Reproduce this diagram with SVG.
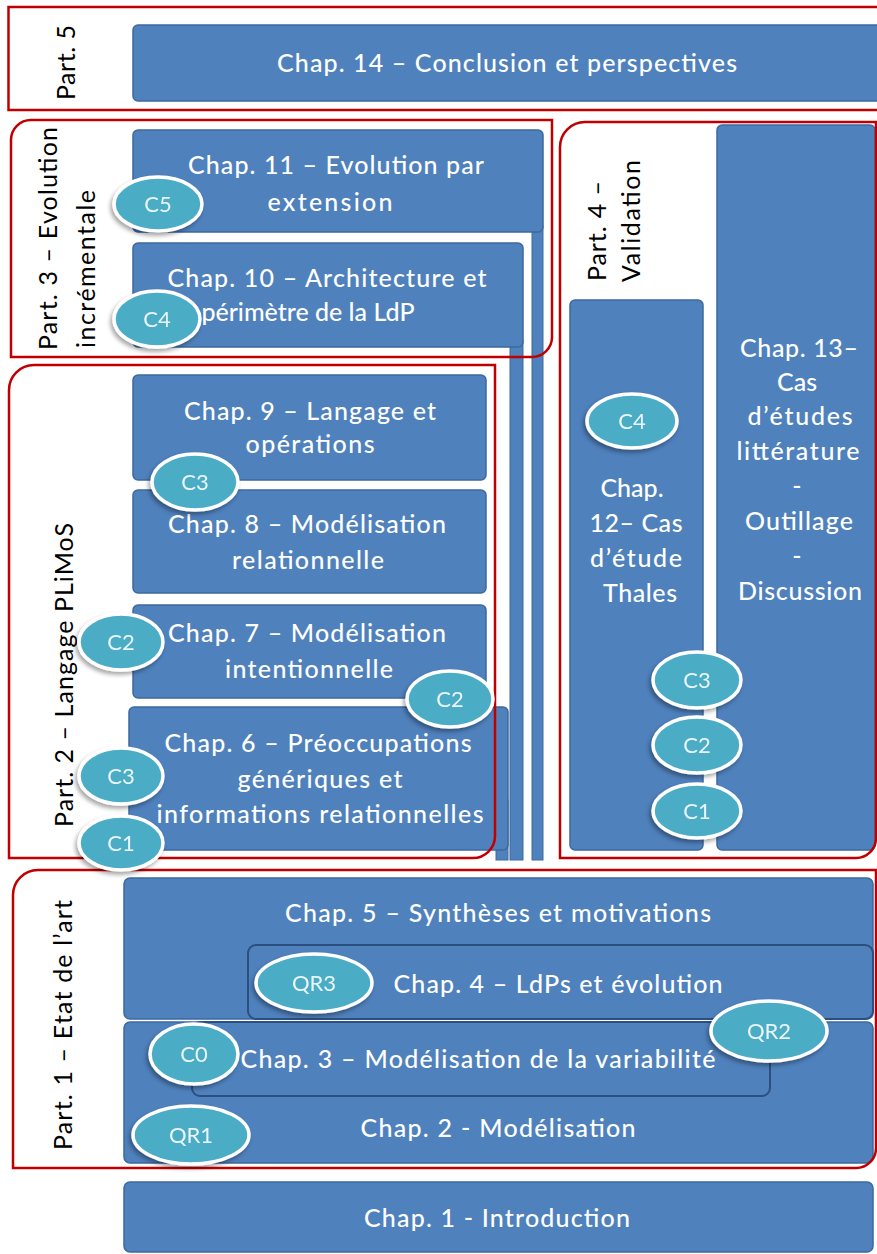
<svg xmlns="http://www.w3.org/2000/svg" width="877" height="1254" viewBox="0 0 877 1254">
<defs>
<style>
.box{fill:#4f81bd;stroke:#3d6a9e;stroke-width:1.5}
.boxd{fill:#4f81bd;stroke:#2b4f7e;stroke-width:2}
.strip{fill:#4f81bd;stroke:#3d6a9e;stroke-width:1}
.frame{fill:none;stroke:#c00000;stroke-width:2.5}
.ct{font-family:Lato,"Open Sans","Liberation Sans",sans-serif;font-size:25px;font-weight:500;fill:#ffffff;text-anchor:middle}
.pl{font-family:Lato,"Open Sans","Liberation Sans",sans-serif;font-size:25px;fill:#000000}
.badge ellipse{fill:#4bacc6;stroke:#ffffff;stroke-width:3.5}
.bl{font-family:Lato,"Open Sans","Liberation Sans",sans-serif;font-size:22px;fill:#eaf6fa;text-anchor:middle}
</style>
<filter id="sh" x="-30%" y="-30%" width="160%" height="170%">
<feDropShadow dx="-2" dy="3" stdDeviation="2" flood-color="#000" flood-opacity="0.35"/>
</filter>
</defs>
<rect width="877" height="1254" fill="#ffffff"/>

<!-- connectors: strips linking chapters downward -->
<g id="connectors">
<rect class="strip" x="532" y="226" width="11" height="634"/>
<rect class="strip" x="510" y="340" width="13" height="520"/>
<rect class="strip" x="496" y="800" width="12" height="60"/>
</g>

<!-- chapters -->
<g id="chap14"><rect class="box" x="133" y="25" width="760" height="76" rx="5"/>
<text class="ct" x="507" y="72" textLength="460">Chap. 14 – Conclusion et perspectives</text></g>

<g id="chap11"><rect class="box" x="133" y="130" width="410" height="102" rx="5"/>
<text class="ct" x="336" y="174" textLength="296">Chap. 11 – Evolution par</text>
<text class="ct" x="330" y="211" textLength="125">extension</text></g>

<g id="chap10"><rect class="box" x="133" y="243" width="390" height="104" rx="5"/>
<text class="ct" x="327" y="287" textLength="319">Chap. 10 – Architecture et</text>
<text class="ct" x="308" y="321">périmètre de la LdP</text></g>

<g id="chap9"><rect class="box" x="133" y="375" width="353" height="105" rx="5"/>
<text class="ct" x="310" y="420" textLength="252">Chap. 9 – Langage et</text>
<text class="ct" x="310" y="453" textLength="129">opérations</text></g>

<g id="chap8"><rect class="box" x="133" y="490" width="353" height="103" rx="5"/>
<text class="ct" x="307" y="533" textLength="278">Chap. 8 – Modélisation</text>
<text class="ct" x="308" y="569" textLength="152">relationnelle</text></g>

<g id="chap7"><rect class="box" x="133" y="605" width="353" height="93" rx="5"/>
<text class="ct" x="307" y="642" textLength="278">Chap. 7 – Modélisation</text>
<text class="ct" x="309" y="678" textLength="168">intentionnelle</text></g>

<g id="chap6"><rect class="box" x="129" y="707" width="379" height="143" rx="5"/>
<text class="ct" x="318" y="752" textLength="307">Chap. 6 – Préoccupations</text>
<text class="ct" x="320" y="788" textLength="165">génériques et</text>
<text class="ct" x="320" y="823" textLength="327">informations relationnelles</text></g>

<g id="chap12"><rect class="box" x="570" y="300" width="133" height="550" rx="5"/>
<text class="ct" x="632" y="497">Chap.</text>
<text class="ct" x="636" y="532" textLength="93">12– Cas</text>
<text class="ct" x="636" y="567" textLength="92">d’étude</text>
<text class="ct" x="640" y="602" textLength="74">Thales</text></g>

<g id="chap13"><rect class="box" x="717" y="125" width="158" height="725" rx="5"/>
<text class="ct" x="799" y="357" textLength="118">Chap. 13–</text>
<text class="ct" x="797" y="391">Cas</text>
<text class="ct" x="800" y="425" textLength="105">d’études</text>
<text class="ct" x="798" y="460" textLength="123">littérature</text>
<text class="ct" x="797" y="495">-</text>
<text class="ct" x="799" y="530" textLength="108">Outillage</text>
<text class="ct" x="797" y="565">-</text>
<text class="ct" x="800" y="600" textLength="124">Discussion</text></g>

<g id="chap5"><rect class="box" x="124" y="878" width="749" height="141" rx="6"/>
<text class="ct" x="498" y="922" textLength="426">Chap. 5 – Synthèses et motivations</text></g>

<g id="chap4"><rect class="boxd" x="248" y="945" width="625" height="74" rx="8"/>
<text class="ct" x="558" y="993" textLength="329">Chap. 4 – LdPs et évolution</text></g>

<g id="chap2"><rect class="box" x="124" y="1022" width="749" height="141" rx="6"/>
<text class="ct" x="498" y="1137" textLength="275">Chap. 2 - Modélisation</text></g>

<g id="chap3"><rect class="boxd" x="192" y="1022" width="578" height="74" rx="8"/>
<text class="ct" x="478" y="1068" textLength="475">Chap. 3 – Modélisation de la variabilité</text></g>

<g id="chap1"><rect class="box" x="124" y="1182" width="749" height="70" rx="6"/>
<text class="ct" x="497" y="1227" textLength="266">Chap. 1 - Introduction</text></g>

<!-- part frames -->
<g id="part5"><rect class="frame" x="8.5" y="7" width="880" height="103"/>
<text class="pl" transform="translate(75,100) rotate(-90)" textLength="75">Part. 5</text></g>

<g id="part3"><path class="frame" d="M31,120 H552 V337 A20 20 0 0 1 532,357 H11 V140 A20 20 0 0 1 31,120 Z"/>
<text class="pl" transform="translate(57,350) rotate(-90)" textLength="223">Part. 3 – Evolution</text>
<text class="pl" transform="translate(95,348) rotate(-90)" textLength="158">incrémentale</text></g>

<g id="part2"><path class="frame" d="M34,365 H495 V836 A22 22 0 0 1 473,858 H9 V390 A25 25 0 0 1 34,365 Z"/>
<text class="pl" transform="translate(73,827) rotate(-90)" textLength="304">Part. 2 – Langage PLiMoS</text></g>

<g id="part4"><path class="frame" d="M585,122 H876 V838 A20 20 0 0 1 856,858 H560 V147 A25 25 0 0 1 585,122 Z"/>
<text class="pl" transform="translate(606,281) rotate(-90)" textLength="100">Part. 4 –</text>
<text class="pl" transform="translate(640,282) rotate(-90)" textLength="122">Validation</text></g>

<g id="part1"><path class="frame" d="M38,870 H876 V1148 A20 20 0 0 1 856,1168 H13 V895 A25 25 0 0 1 38,870 Z"/>
<text class="pl" transform="translate(72,1150) rotate(-90)" textLength="250">Part. 1 – Etat de l’art</text></g>

<!-- badges -->
<g id="badge-c5" class="badge" filter="url(#sh)"><ellipse cx="158" cy="204" rx="44" ry="27"/><text class="bl" x="158" y="212">C5</text></g>
<g id="badge-c4a" class="badge" filter="url(#sh)"><ellipse cx="157" cy="319" rx="43" ry="28"/><text class="bl" x="157" y="327">C4</text></g>
<g id="badge-c3a" class="badge" filter="url(#sh)"><ellipse cx="195" cy="482" rx="43" ry="28"/><text class="bl" x="195" y="490">C3</text></g>
<g id="badge-c2a" class="badge" filter="url(#sh)"><ellipse cx="121" cy="642" rx="42" ry="28"/><text class="bl" x="121" y="650">C2</text></g>
<g id="badge-c2b" class="badge" filter="url(#sh)"><ellipse cx="450" cy="699" rx="43" ry="28"/><text class="bl" x="450" y="707">C2</text></g>
<g id="badge-c3b" class="badge" filter="url(#sh)"><ellipse cx="121" cy="776" rx="42" ry="28"/><text class="bl" x="121" y="784">C3</text></g>
<g id="badge-c1a" class="badge" filter="url(#sh)"><ellipse cx="121" cy="843" rx="42" ry="27"/><text class="bl" x="121" y="851">C1</text></g>
<g id="badge-c4b" class="badge" filter="url(#sh)"><ellipse cx="632" cy="421" rx="45" ry="27"/><text class="bl" x="632" y="429">C4</text></g>
<g id="badge-c3c" class="badge" filter="url(#sh)"><ellipse cx="697" cy="680" rx="44" ry="28"/><text class="bl" x="697" y="688">C3</text></g>
<g id="badge-c2c" class="badge" filter="url(#sh)"><ellipse cx="697" cy="745" rx="44" ry="28"/><text class="bl" x="697" y="753">C2</text></g>
<g id="badge-c1b" class="badge" filter="url(#sh)"><ellipse cx="697" cy="811" rx="44" ry="27"/><text class="bl" x="697" y="819">C1</text></g>
<g id="badge-qr3" class="badge" filter="url(#sh)"><ellipse cx="314" cy="983" rx="58" ry="29"/><text class="bl" x="314" y="991">QR3</text></g>
<g id="badge-qr2" class="badge" filter="url(#sh)"><ellipse cx="769" cy="1031" rx="58" ry="30"/><text class="bl" x="769" y="1039">QR2</text></g>
<g id="badge-c0" class="badge" filter="url(#sh)"><ellipse cx="194" cy="1054" rx="44" ry="30"/><text class="bl" x="194" y="1062">C0</text></g>
<g id="badge-qr1" class="badge" filter="url(#sh)"><ellipse cx="191" cy="1135" rx="58" ry="29"/><text class="bl" x="191" y="1143">QR1</text></g>
</svg>
